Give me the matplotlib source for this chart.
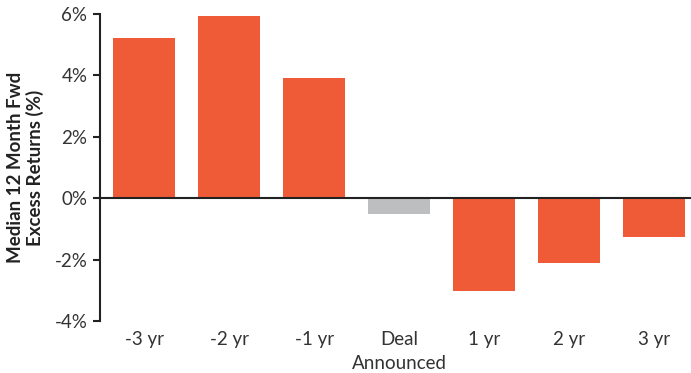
import matplotlib.pyplot as plt
from matplotlib.ticker import FuncFormatter

categories = ["-3 yr", "-2 yr", "-1 yr", "Deal\nAnnounced", "1 yr", "2 yr", "3 yr"]
returns = [5.22, 5.93, 3.91, -0.51, -3.02, -2.11, -1.26]
colors = ["#EF5B37", "#EF5B37", "#EF5B37", "#BDBEC0", "#EF5B37", "#EF5B37", "#EF5B37"]

plt.rcParams['font.family'] = ['Lato', 'DejaVu Sans']

fig = plt.figure(figsize=(6.91, 3.73), dpi=100)
ax = fig.add_axes([0.1447, 0.1394, 0.8553, 0.8231])

x = range(len(categories))
ax.bar(x, returns, width=0.73, color=colors, zorder=2)
ax.axhline(0, color="#222222", lw=1.5, zorder=3)

ax.set_ylim(-4, 6)
ax.set_xlim(-0.52, 6.435)
ax.set_yticks([-4, -2, 0, 2, 4, 6])
ax.yaxis.set_major_formatter(FuncFormatter(lambda v, p: f"{v:.0f}%"))
ax.set_xticks(list(x))
ax.set_xticklabels(categories, linespacing=1.55)

for s in ["top", "right", "bottom"]:
    ax.spines[s].set_visible(False)
ax.spines["left"].set_color("#222222")
ax.spines["left"].set_linewidth(1.5)
ax.tick_params(axis="y", length=5, width=1.5, color="#222222", labelsize=13.5,
               labelcolor="#333333", pad=4)
ax.tick_params(axis="x", length=0, labelsize=13.5, labelcolor="#333333", pad=7)

ax.set_ylabel("Median 12 Month Fwd\nExcess Returns (%)", fontsize=13.5,
              fontweight="bold", color="#222222", linespacing=1.1, labelpad=8)

fig.savefig("out.png", dpi=100)
